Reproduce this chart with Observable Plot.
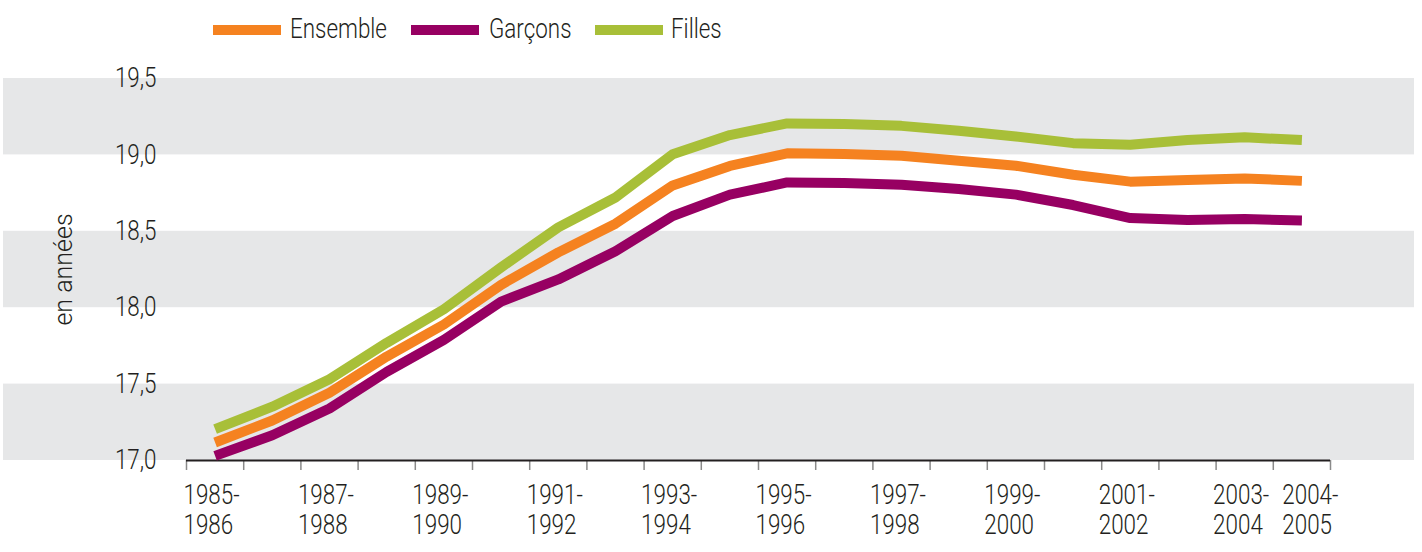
<!DOCTYPE html>
<html>
<head>
<meta charset="utf-8">
<script src="https://cdn.jsdelivr.net/npm/d3@7"></script>
<script src="https://cdn.jsdelivr.net/npm/@observablehq/plot@0.6"></script>
<style>
  html, body { margin: 0; padding: 0; background: #fff; }
  body { width: 1422px; height: 552px; overflow: hidden; font-family: Roboto, "DejaVu Sans Condensed", sans-serif; font-weight: 300; color: #231f20; }
  #legend { position: relative; height: 60px; width: 1422px; }
  .sw { position: absolute; top: 25px; width: 68px; height: 10px; }
  .lb { position: absolute; top: 14px; font-size: 27px; line-height: 30px; transform: scaleX(0.83); transform-origin: left center; white-space: nowrap; }
  #chart svg { display: block; }
</style>
</head>
<body>
<div id="legend"></div>
<div id="chart"></div>
<script>
const years = ["1985-1986","1986-1987","1987-1988","1988-1989","1989-1990","1990-1991","1991-1992","1992-1993","1993-1994","1994-1995","1995-1996","1996-1997","1997-1998","1998-1999","1999-2000","2000-2001","2001-2002","2002-2003","2003-2004","2004-2005"];
const ensemble = [17.118, 17.262, 17.443, 17.68, 17.89, 18.15, 18.362, 18.55, 18.80, 18.928, 19.01, 19.006, 18.995, 18.962, 18.929, 18.87, 18.825, 18.836, 18.846, 18.83];
const garcons  = [17.03, 17.165, 17.34, 17.58, 17.79, 18.04, 18.185, 18.37, 18.60, 18.74, 18.82, 18.816, 18.805, 18.777, 18.74, 18.672, 18.587, 18.574, 18.58, 18.57];
const filles   = [17.205, 17.352, 17.532, 17.77, 17.99, 18.264, 18.526, 18.721, 19.004, 19.13, 19.206, 19.202, 19.19, 19.158, 19.121, 19.077, 19.067, 19.097, 19.115, 19.097];
const seriesNames = ["Ensemble", "Garçons", "Filles"];
const seriesColors = ["#f58220", "#970062", "#a8bf38"];
const labeledYears = ["1985-1986","1987-1988","1989-1990","1991-1992","1993-1994","1995-1996","1997-1998","1999-2000","2001-2002","2003-2004"];
const lastYear = "2004-2005";
const yTicks = [17.0, 17.5, 18.0, 18.5, 19.0, 19.5];
const bands = [[17.0, 17.5], [18.0, 18.5], [19.0, 19.5]];
const yTitle = "en années";

const FONT = 'Roboto, "DejaVu Sans Condensed", sans-serif';
const SQUEEZE = 0.83;

// legend
const legendPos = [[213, 290], [411, 489], [595, 671]];
const legend = document.getElementById("legend");
seriesNames.forEach((name, k) => {
  const sw = document.createElement("div");
  sw.className = "sw";
  sw.style.left = legendPos[k][0] + "px";
  sw.style.background = seriesColors[k];
  legend.appendChild(sw);
  const lb = document.createElement("div");
  lb.className = "lb";
  lb.style.left = legendPos[k][1] + "px";
  lb.textContent = name;
  legend.appendChild(lb);
});

const table = [];
[ensemble, garcons, filles].forEach((vals, k) => {
  vals.forEach((v, i) => table.push({serie: seriesNames[k], i, year: years[i], v}));
});
const drawOrder = ["Filles", "Ensemble", "Garçons"];
const idx = y => years.indexOf(y);
const boundaries = d3.range(years.length + 1).map(i => i - 0.5);
const fmt = d => d3.format(".1f")(d).replace(".", ",");
const bandRows = bands.map(([a, b]) => ({a, b}));

const plot = Plot.plot({
  width: 1422,
  height: 492,
  marginTop: 18,
  marginBottom: 92,
  marginLeft: 186,
  marginRight: 92,
  style: {fontFamily: FONT, fontWeight: 300, fontSize: "27px", color: "#231f20", background: "transparent"},
  x: {type: "linear", domain: [-0.5, years.length - 0.5], axis: null},
  y: {domain: [17, 19.5], axis: null},
  color: {domain: seriesNames, range: seriesColors},
  marks: [
    Plot.rect(bandRows, {y1: "a", y2: "b", fill: "#e6e7e8", insetLeft: -183, insetRight: -84}),
    Plot.axisY({ticks: yTicks, tickSize: 0, tickPadding: 30, tickFormat: fmt, fontSize: 27, fill: "#231f20", label: null}),
    Plot.text([yTitle], {frameAnchor: "left", textAnchor: "middle", lineAnchor: "middle", dx: -123, rotate: -90, fontSize: 25, fill: "#231f20", className: "ytitle"}),
    Plot.axisX({ticks: boundaries, tickFormat: () => "", tickSize: 10, stroke: "#8a8a8a", strokeWidth: 1.5, label: null}),
    Plot.ruleY([17], {stroke: "#231f20", strokeWidth: 2}),
    Plot.text(labeledYears, {x: d => idx(d) - 0.5, y: 17, text: d => d.replace("-", "-\n"), textAnchor: "start", lineAnchor: "top", lineHeight: 1.12, dx: -3, dy: 22, fontSize: 27, fill: "#231f20"}),
    Plot.text([lastYear], {x: d => idx(d) - 0.5, y: 17, text: d => d.replace("-", "-\n"), textAnchor: "start", lineAnchor: "top", lineHeight: 1.12, dx: 9, dy: 22, fontSize: 27, fill: "#231f20"}),
    ...drawOrder.map(s => Plot.line(table.filter(d => d.serie === s), {x: "i", y: "v", stroke: "serie", strokeWidth: 10, strokeLinecap: "butt", strokeLinejoin: "round"}))
  ]
});
document.getElementById("chart").appendChild(plot);

// mimic a condensed face: squeeze glyphs horizontally (not the rotated title)
plot.querySelectorAll("text").forEach(t => {
  if (t.closest(".ytitle")) return;
  const spans = t.querySelectorAll("tspan");
  const targets = spans.length ? Array.from(spans) : [t];
  targets.forEach(el => {
    const len = el.getComputedTextLength();
    if (len > 0) {
      el.setAttribute("textLength", (len * SQUEEZE).toFixed(2));
      el.setAttribute("lengthAdjust", "spacingAndGlyphs");
    }
  });
});
</script>
</body>
</html>
